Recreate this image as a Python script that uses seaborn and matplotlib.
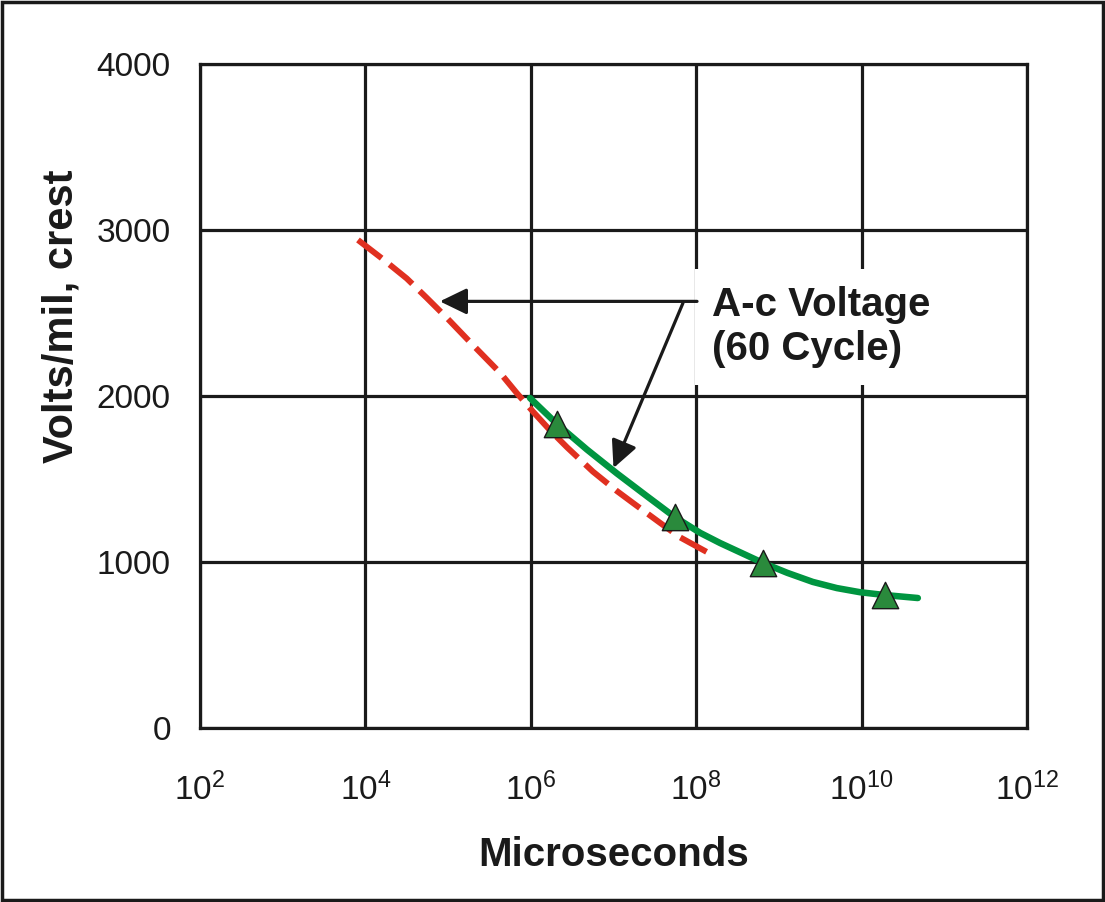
import numpy as np
import pandas as pd
import matplotlib
matplotlib.use("Agg")
import matplotlib.pyplot as plt
from matplotlib.ticker import FixedLocator, FixedFormatter, NullLocator
from matplotlib.patches import Rectangle
import seaborn as sns

# ---- data (log10 microseconds, volts/mil) ----
red_logx = [3.91, 4.21, 4.50, 4.74, 4.99, 5.30, 5.63, 5.83, 6.03, 6.23, 6.44,
            6.75, 7.04, 7.24, 7.56, 7.80, 8.13]
red_y = [2940, 2825, 2708, 2592, 2468, 2307, 2139, 2018, 1904, 1795, 1690,
         1545, 1428, 1354, 1237, 1150, 1060]

green_logx = [5.99, 6.32, 6.68, 7.04, 7.40, 7.74, 8.05, 8.29, 8.81, 9.10, 9.41,
              9.70, 9.98, 10.28, 10.68]
green_y = [1988, 1830, 1677, 1534, 1398, 1271, 1175, 1114, 994, 935, 880,
           843, 818, 801, 783]

tri_logx = [6.32, 7.74, 8.81, 10.28]
tri_y = [1830, 1271, 994, 801]

xtick_exp = [2, 4, 6, 8, 10, 12]
yticks = [0, 1000, 2000, 3000, 4000]
xlabel = "Microseconds"
ylabel = "Volts/mil, crest"
note = "A-c Voltage\n(60 Cycle)"

red_df = pd.DataFrame({"x": np.power(10.0, red_logx), "y": red_y})
green_df = pd.DataFrame({"x": np.power(10.0, green_logx), "y": green_y})
tri_df = pd.DataFrame({"x": np.power(10.0, tri_logx), "y": tri_y})

sns.set_style("white")
plt.rcParams["font.family"] = ["Liberation Sans", "DejaVu Sans"]
plt.rcParams["mathtext.default"] = "regular"

INK = "#1a1a1a"
RED = "#e03020"
GREEN = "#009540"

fig = plt.figure(figsize=(11.05, 9.02), dpi=100)
ax = fig.add_axes([200 / 1105, 1 - 728 / 902, (1027 - 200) / 1105, (728 - 64) / 902])
ax.set_xscale("log")
ax.set_xlim(1e2, 1e12)
ax.set_ylim(0, 4000)

sns.lineplot(data=red_df, x="x", y="y", ax=ax, color=RED, lw=4.3,
             sort=False, estimator=None, zorder=3)
ax.lines[-1].set_dashes([5.0, 1.7])
ax.lines[-1].set_dash_capstyle("butt")
ax.lines[-1].set_dash_joinstyle("round")
sns.lineplot(data=green_df, x="x", y="y", ax=ax, color=GREEN, lw=4.7,
             sort=False, estimator=None, zorder=4)
ax.lines[-1].set_solid_joinstyle("round")
sns.scatterplot(data=tri_df, x="x", y="y", ax=ax, marker="^", s=360,
                color="#2a8a3c", edgecolor=INK, linewidth=1.0, zorder=5)

# grid
for e in xtick_exp:
    ax.axvline(10.0 ** e, color=INK, lw=2.3, zorder=1)
for v in yticks:
    ax.axhline(v, color=INK, lw=2.3, zorder=1)

ax.xaxis.set_major_locator(FixedLocator([10.0 ** e for e in xtick_exp]))
ax.xaxis.set_major_formatter(FixedFormatter([f"$10^{{{e}}}$" for e in xtick_exp]))
ax.xaxis.set_minor_locator(NullLocator())
ax.set_yticks(yticks)
ax.set_yticklabels([str(v) for v in yticks])

ax.tick_params(axis="both", direction="out", length=17, width=2.3, color=INK,
               labelsize=24, labelcolor=INK)
ax.tick_params(axis="x", pad=15)
ax.tick_params(axis="y", pad=4)
for s in ax.spines.values():
    s.set_color(INK)
    s.set_linewidth(2.3)

ax.set_xlabel(xlabel, fontsize=29, fontweight="bold", color=INK)
ax.set_ylabel(ylabel, fontsize=30, fontweight="bold", color=INK)
ax.xaxis.set_label_coords(0.5, -0.163)
ax.yaxis.set_label_coords(-0.143, 0.62)

# annotation
ax.text(10 ** 8.19, 2662, note, fontsize=29, fontweight="bold", color=INK,
        ha="left", va="top", linespacing=1.2, zorder=6,
        bbox=dict(boxstyle="square,pad=0.42", facecolor="white", edgecolor="none"))
arrow_style = dict(arrowstyle="-|>,head_length=1.65,head_width=0.8", mutation_scale=10,
                   color=INK, lw=2.3, shrinkA=0, shrinkB=0)
ax.annotate("", xy=(10 ** 4.90, 2570), xytext=(10 ** 8.01, 2570),
            arrowprops=arrow_style, zorder=7)
ax.annotate("", xy=(10 ** 7.00, 1566), xytext=(10 ** 7.84, 2560),
            arrowprops=arrow_style, zorder=7)

# figure frame
fig.add_artist(Rectangle((0.002, 0.002), 0.996, 0.996, transform=fig.transFigure,
                         fill=False, edgecolor=INK, lw=2.5))

fig.savefig("out.png", dpi=100, facecolor="white")
